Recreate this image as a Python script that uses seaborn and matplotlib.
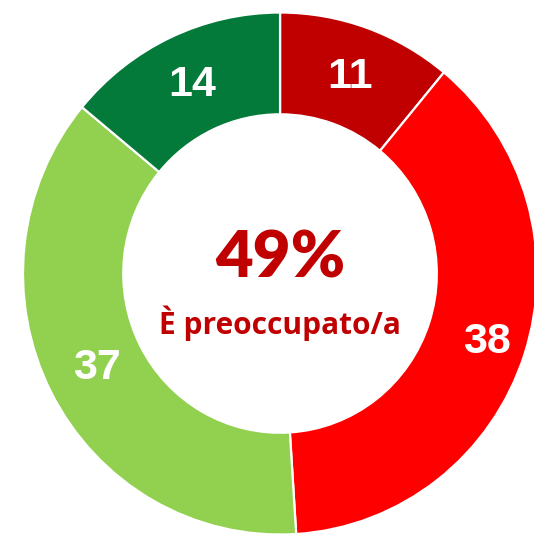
import matplotlib
matplotlib.use("Agg")
import matplotlib.pyplot as plt
import numpy as np
import seaborn as sns

# Share of answers per category, clockwise from the top
categories = ["Molto preoccupato", "Abbastanza preoccupato", "Poco preoccupato", "Per niente preoccupato"]
values = [11, 38, 37, 14]
colors = ["#C00000", "#FF0000", "#92D050", "#037A3A"]
center_value = "49%"
center_label = "È preoccupato/a"

sns.set_theme(style="white")
plt.rcParams["font.family"] = ["Liberation Sans", "DejaVu Sans"]

fig = plt.figure(figsize=(5.34, 5.34), dpi=100)
ax = fig.add_axes([0, 0, 1, 1])

wedges, _ = ax.pie(
    values,
    colors=colors,
    startangle=90,
    counterclock=False,
    radius=1.0,
    wedgeprops=dict(width=0.39, edgecolor="white", linewidth=1.6),
)

# value labels inside the ring; the wide right segment has its label nudged outward
label_radius = [0.80, 0.845, 0.80, 0.80]
total = sum(values)
cum = np.cumsum([0] + values[:-1])
for v, c, r in zip(values, cum, label_radius):
    mid = (c + v / 2) / total * 2 * np.pi
    ax.text(r * np.sin(mid), r * np.cos(mid), str(v), ha="center", va="center",
            color="white", fontsize=31, fontweight="bold")

ax.text(0, 0.055, center_value, ha="center", va="center", color="#C00000",
        fontsize=47, fontweight="heavy", family=["Lato", "DejaVu Sans"])
ax.text(0, -0.19, center_label, ha="center", va="center", color="#C00000",
        fontsize=21.5, fontweight="bold", family=["Open Sans", "DejaVu Sans"])

ax.set_aspect("auto")
ax.set_xlim(-1.0895, 0.988)
ax.set_ylim(-0.998, 1.048)
ax.axis("off")

fig.savefig("out.png", dpi=100, facecolor="white")
